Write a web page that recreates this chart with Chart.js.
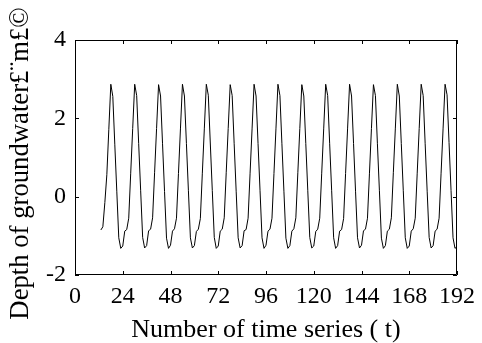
<!DOCTYPE html>
<html>
<head>
<meta charset="utf-8">
<title>Depth of groundwater</title>
<script src="https://cdn.jsdelivr.net/npm/chart.js@4.4.1/dist/chart.umd.min.js"></script>
<style>
    html, body { margin: 0; padding: 0; background: #fff; }
    #wrap { width: 482px; height: 343px; }
</style>
</head>
<body>
<div id="wrap"><canvas id="depth-chart" width="482" height="343"></canvas></div>
<script>
// first time step of the series (t = 13 ... 192, one row per 12 steps)
const firstStep = 13;

const depth = [
    -0.85, -0.77, -0.15, 0.56, 1.72, 2.87, 2.56, 1.34, 0.14, -1.05, -1.32, -1.26,
    -0.88, -0.84, -0.55, 0.60, 1.74, 2.87, 2.58, 1.36, 0.15, -1.04, -1.31, -1.25,
    -0.87, -0.83, -0.54, 0.61, 1.74, 2.86, 2.57, 1.35, 0.13, -1.06, -1.32, -1.24,
    -0.88, -0.82, -0.55, 0.59, 1.73, 2.87, 2.57, 1.36, 0.15, -1.05, -1.31, -1.25,
    -0.89, -0.83, -0.56, 0.60, 1.73, 2.87, 2.59, 1.37, 0.16, -1.04, -1.32, -1.26,
    -0.88, -0.83, -0.54, 0.61, 1.74, 2.86, 2.58, 1.35, 0.14, -1.05, -1.31, -1.25,
    -0.87, -0.84, -0.55, 0.60, 1.73, 2.87, 2.57, 1.36, 0.15, -1.05, -1.32, -1.24,
    -0.88, -0.83, -0.55, 0.59, 1.73, 2.87, 2.58, 1.35, 0.14, -1.06, -1.32, -1.25,
    -0.88, -0.82, -0.54, 0.61, 1.74, 2.86, 2.57, 1.36, 0.15, -1.04, -1.31, -1.26,
    -0.89, -0.83, -0.55, 0.60, 1.73, 2.87, 2.58, 1.35, 0.15, -1.05, -1.32, -1.25,
    -0.88, -0.84, -0.56, 0.59, 1.73, 2.87, 2.57, 1.36, 0.14, -1.05, -1.31, -1.24,
    -0.87, -0.83, -0.55, 0.60, 1.74, 2.86, 2.58, 1.35, 0.15, -1.06, -1.32, -1.25,
    -0.88, -0.83, -0.54, 0.61, 1.73, 2.87, 2.57, 1.36, 0.15, -1.05, -1.32, -1.26,
    -0.88, -0.82, -0.55, 0.60, 1.74, 2.87, 2.58, 1.35, 0.14, -1.04, -1.31, -1.25,
    -0.88, -0.83, -0.55, 0.60, 1.73, 2.87, 2.60, 1.38, 0.16, -1.05, -1.32, -1.27,
];

const xTicks = [0, 24, 48, 72, 96, 120, 144, 168, 192];
const yTicks = [-2, 0, 2, 4];
const xTitle = "Number of time series ( t)";
const yTitle = "Depth of groundwater£¨m£©";

const serif = "'Liberation Serif', 'Times New Roman', serif";

// MATLAB style box: frame on all four sides, tick marks pointing inward
const boxTicks = {
    id: "boxTicks",
    afterDraw(chart) {
        const { ctx, chartArea: a, scales } = chart;
        const len = 4;
        ctx.save();
        ctx.strokeStyle = "#000";
        ctx.lineWidth = 1;
        ctx.beginPath();
        ctx.rect(a.left + 0.5, a.top + 0.5, a.right - a.left - 1, a.bottom - a.top - 1);
        xTicks.forEach((v) => {
            const px = Math.round(scales.x.getPixelForValue(v)) + 0.5;
            ctx.moveTo(px, a.bottom);
            ctx.lineTo(px, a.bottom - len);
            ctx.moveTo(px, a.top);
            ctx.lineTo(px, a.top + len);
        });
        yTicks.forEach((v) => {
            const py = Math.round(scales.y.getPixelForValue(v)) + 0.5;
            ctx.moveTo(a.left, py);
            ctx.lineTo(a.left + len, py);
            ctx.moveTo(a.right, py);
            ctx.lineTo(a.right - len, py);
        });
        ctx.stroke();

        // y axis title sits a little below the plot centre in the original
        ctx.translate(21, 163.5);
        ctx.rotate(-Math.PI / 2);
        ctx.fillStyle = "#000";
        ctx.font = "26.7px " + serif;
        ctx.textAlign = "center";
        ctx.textBaseline = "middle";
        ctx.fillText(yTitle, 0, 0);
        ctx.restore();
    },
};

const chartCanvas = document.getElementById("depth-chart");

new Chart(chartCanvas, {
    type: "line",
    data: {
        datasets: [
            {
                label: "Depth",
                data: depth.map((v, i) => ({ x: firstStep + i, y: v })),
                borderColor: "#000",
                borderWidth: 1,
                pointRadius: 0,
                tension: 0,
                fill: false,
            },
        ],
    },
    options: {
        responsive: false,
        animation: false,
        layout: { padding: { top: 40, right: 21, bottom: 0, left: 0 } },
        plugins: {
            legend: { display: false },
            tooltip: { enabled: false },
        },
        scales: {
            x: {
                type: "linear",
                min: 0,
                max: 192,
                afterBuildTicks: (s) => { s.ticks = xTicks.map((v) => ({ value: v })); },
                afterFit: (s) => { s.height = 68; },
                grid: { display: false, drawTicks: false },
                border: { display: false },
                ticks: {
                    color: "#000",
                    font: { family: serif, size: 24 },
                    padding: 7,
                    maxRotation: 0,
                    autoSkip: false,
                },
                title: {
                    display: true,
                    text: xTitle,
                    color: "#000",
                    font: { family: serif, size: 26, lineHeight: 1 },
                    padding: { top: 0, bottom: 0 },
                },
            },
            y: {
                min: -2,
                max: 4,
                afterBuildTicks: (s) => { s.ticks = yTicks.map((v) => ({ value: v })); },
                afterFit: (s) => { s.width = 75; },
                grid: { display: false, drawTicks: false },
                border: { display: false },
                ticks: {
                    color: "#000",
                    font: { family: serif, size: 24 },
                    padding: 9,
                },
            },
        },
    },
    plugins: [boxTicks],
});
</script>
</body>
</html>
